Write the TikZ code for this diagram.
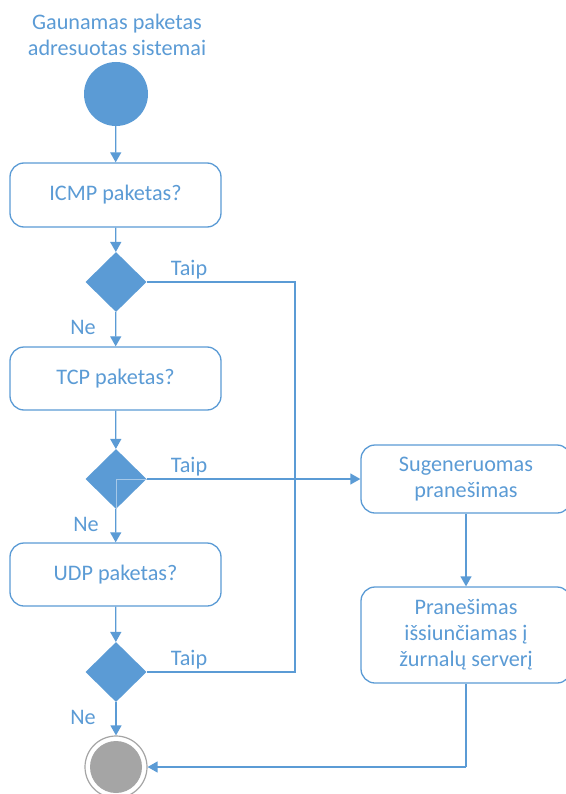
\documentclass[tikz,border=0pt]{standalone}
\usepackage{fontspec}
\setmainfont{Carlito}
\usetikzlibrary{shapes.geometric,arrows.meta}
\definecolor{accent}{HTML}{5B9BD5}
\definecolor{endgrey}{HTML}{A5A5A5}
\begin{document}
\begin{tikzpicture}[x=1pt,y=-1pt,
  every node/.style={font=\fontsize{22.2}{26}\selectfont, text=accent},
  flowbox/.style={draw=accent, line width=1.3pt, fill=white, rounded corners=14pt,
    align=center, inner sep=0pt},
  decision/.style={diamond, fill=accent, minimum width=61pt, minimum height=60pt,
    inner sep=0pt, aspect=1},
  link/.style={draw=accent, line width=1.3pt},
  arrow/.style={link, -{Triangle[length=10pt,width=11pt]}},
  caption/.style={inner sep=0pt}]
\useasboundingbox (0,0) rectangle (565,794);

% start of the activity
\node[caption, align=center] (title) at (117,35) {Gaunamas paketas\\adresuotas sistemai};
\node[circle, fill=accent, minimum size=64pt, inner sep=0pt] (start) at (116,94) {};

% protocol checks
\node[flowbox, minimum width=211pt, minimum height=64pt] (icmp) at (115.5,195) {ICMP paketas?};
\node[decision] (d1) at (116,282) {};
\node[flowbox, minimum width=211pt, minimum height=63pt] (tcp) at (115.5,378.5) {TCP paketas?};
\node[decision] (d2) at (116,479) {};
\node[flowbox, minimum width=211pt, minimum height=63pt] (udp) at (115.5,574.5) {UDP paketas?};
\node[decision] (d3) at (116,672) {};

% end of the activity
\node[circle, draw=endgrey, line width=1.2pt, fill=white, minimum size=62pt, inner sep=0pt] (end) at (116,767) {};
\fill[endgrey] (end.center) circle (26);

% message handling
\node[flowbox, minimum width=210pt, minimum height=68pt] (gen) at (466,479) {Sugeneruomas\\pranešimas};
\node[flowbox, minimum width=210pt, minimum height=96pt] (msg) at (466,635) {Pranešimas\\išsiunčiamas į\\žurnalų serverį};

% junction points of the "Taip" branches
\coordinate (j1) at (295,282);
\coordinate (j3) at (295,672);
\coordinate (back) at (466,767);

% main flow
\draw[arrow] (start) -- (icmp);
\draw[arrow] (icmp) -- (d1);
\draw[arrow] (d1) -- (tcp);
\draw[arrow] (tcp) -- (d2);
\draw[arrow] (d2) -- (udp);
\draw[arrow] (udp) -- (d3);
\draw[arrow] (d3) -- (end);

% "Taip" branches
\draw[link] (d1.east) -- (j1) -- (j3) -- (d3.east);
\draw[arrow] (d2.east) -- (gen.west);
\draw[link, draw=accent!55!white, line width=1pt] (d2.center) -- (d2.east) (d2.center) -- (d2.south);
\draw[arrow] (gen) -- (msg);
\draw[link] (msg.south) -- (back);
\draw[arrow] (back) -- (end.east);

% branch labels
\node[caption] (t1) at (189,270) {Taip};
\node[caption] (t2) at (189,467) {Taip};
\node[caption] (t3) at (189,660) {Taip};
\node[caption] (n1) at (83,327) {Ne};
\node[caption] (n2) at (86,524) {Ne};
\node[caption] (n3) at (83,717) {Ne};
\end{tikzpicture}
\end{document}
